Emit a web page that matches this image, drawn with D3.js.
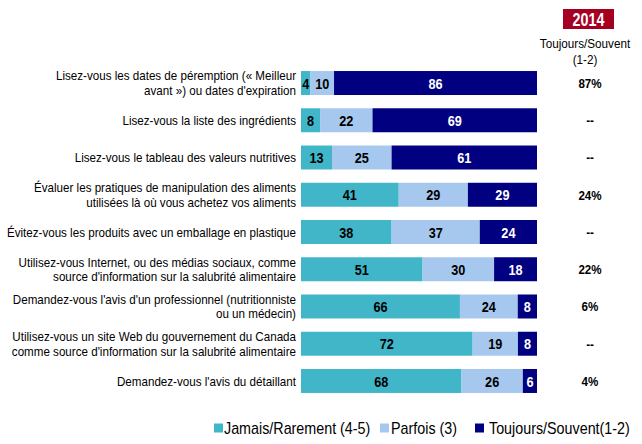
<!DOCTYPE html>
<html><head><meta charset="utf-8">
<script src="https://cdn.jsdelivr.net/npm/d3@7"></script>
<style>
html,body{margin:0;padding:0;background:#fff;}
svg{display:block;font-family:"Liberation Sans",Arial,sans-serif;}
</style></head>
<body><svg id="chart" width="642" height="444"></svg>
<script>
const categories = [
  "Lisez-vous les dates de péremption (« Meilleur\navant ») ou dates d'expiration",
  "Lisez-vous la liste des ingrédients",
  "Lisez-vous le tableau des valeurs nutritives",
  "Évaluer les pratiques de manipulation des aliments\nutilisées là où vous achetez vos aliments",
  "Évitez-vous les produits avec un emballage en plastique",
  "Utilisez-vous Internet, ou des médias sociaux, comme\nsource d'information sur la salubrité alimentaire",
  "Demandez-vous l'avis d'un professionnel (nutritionniste\nou un médecin)",
  "Utilisez-vous un site Web du gouvernement du Canada\ncomme source d'information sur la salubrité alimentaire",
  "Demandez-vous l'avis du détaillant"
];
const jamais   = [4, 8, 13, 41, 38, 51, 66, 72, 68];
const parfois  = [10, 22, 25, 29, 37, 30, 24, 19, 26];
const toujours = [86, 69, 61, 29, 24, 18, 8, 8, 6];
const seriesNames = ["Jamais/Rarement (4-5)", "Parfois (3)", "Toujours/Souvent(1-2)"];
const pct2014 = ["87%", "--", "--", "24%", "--", "22%", "6%", "--", "4%"];
const colHeader = ["Toujours/Souvent", "(1-2)"];
const yearLabel = "2014";

const colors = ["#41B6C9", "#A7C8EE", "#000080"];
const textColors = ["#000", "#000", "#fff"];
const keys = ["j", "p", "t"];

const rows = categories.map((c, i) => ({cat: c, j: jamais[i], p: parfois[i], t: toujours[i]}));
const stack = d3.stack().keys(keys).offset(d3.stackOffsetExpand)(rows);

const svg = d3.select("#chart");
const x = d3.scaleLinear().domain([0, 1]).range([301, 537]);
const y = d3.scaleBand().domain(d3.range(categories.length)).range([64.4, 399.6])
  .paddingInner(0.356).paddingOuter(0.178);

// narrow text helper (emulates Arial Narrow by horizontal scaling)
function ntext(parent, px, py, str, opts) {
  const o = Object.assign({anchor: "middle", size: 12.5, weight: "normal", fill: "#000", sx: 0.82}, opts || {});
  return parent.append("text")
    .attr("transform", `translate(${px},${py}) scale(${o.sx},1)`)
    .attr("dy", "0.36em")
    .attr("text-anchor", o.anchor)
    .attr("font-size", o.size)
    .attr("font-weight", o.weight)
    .attr("fill", o.fill)
    .text(str);
}

const g = svg.append("g");
stack.forEach((s, si) => {
  const grp = g.append("g");
  grp.selectAll("rect").data(s).join("rect")
    .attr("x", d => x(d[0]))
    .attr("y", (d, i) => y(i))
    .attr("width", d => x(d[1]) - x(d[0]))
    .attr("height", y.bandwidth())
    .attr("fill", colors[si]);
  s.forEach((d, i) => {
    ntext(grp, (x(d[0]) + x(d[1])) / 2, y(i) + y.bandwidth() / 2, d.data[keys[si]],
      {size: 15.5, weight: "bold", fill: textColors[si]});
  });
});

// category labels
categories.forEach((c, i) => {
  const lines = c.split("\n");
  const cy = y(i) + y.bandwidth() / 2;
  const lh = 14.5;
  lines.forEach((ln, k) => {
    ntext(svg, 296, cy + (k - (lines.length - 1) / 2) * lh, ln, {anchor: "end", size: 12.6, sx: 0.922});
  });
});

// right column
svg.append("rect").attr("x", 563).attr("y", 9).attr("width", 51).attr("height", 20).attr("fill", "#A50021");
ntext(svg, 588.5, 19.5, yearLabel, {size: 17.5, weight: "bold", fill: "#fff"});
colHeader.forEach((h, k) => {
  ntext(svg, 585, 43 + k * 16, h, {size: 13, sx: 0.9});
});
pct2014.forEach((p, i) => {
  ntext(svg, 590, y(i) + y.bandwidth() / 2, p, {size: 13.5, weight: "bold", sx: 0.86});
});

// legend
const legSq = [214, 380, 475];
const legTx = [224, 391, 489];
seriesNames.forEach((n, i) => {
  svg.append("rect").attr("x", legSq[i]).attr("y", 423.5).attr("width", 9).attr("height", 9).attr("fill", colors[i]);
  ntext(svg, legTx[i], 428, n, {anchor: "start", size: 16, sx: 0.895});
});
</script></body></html>
